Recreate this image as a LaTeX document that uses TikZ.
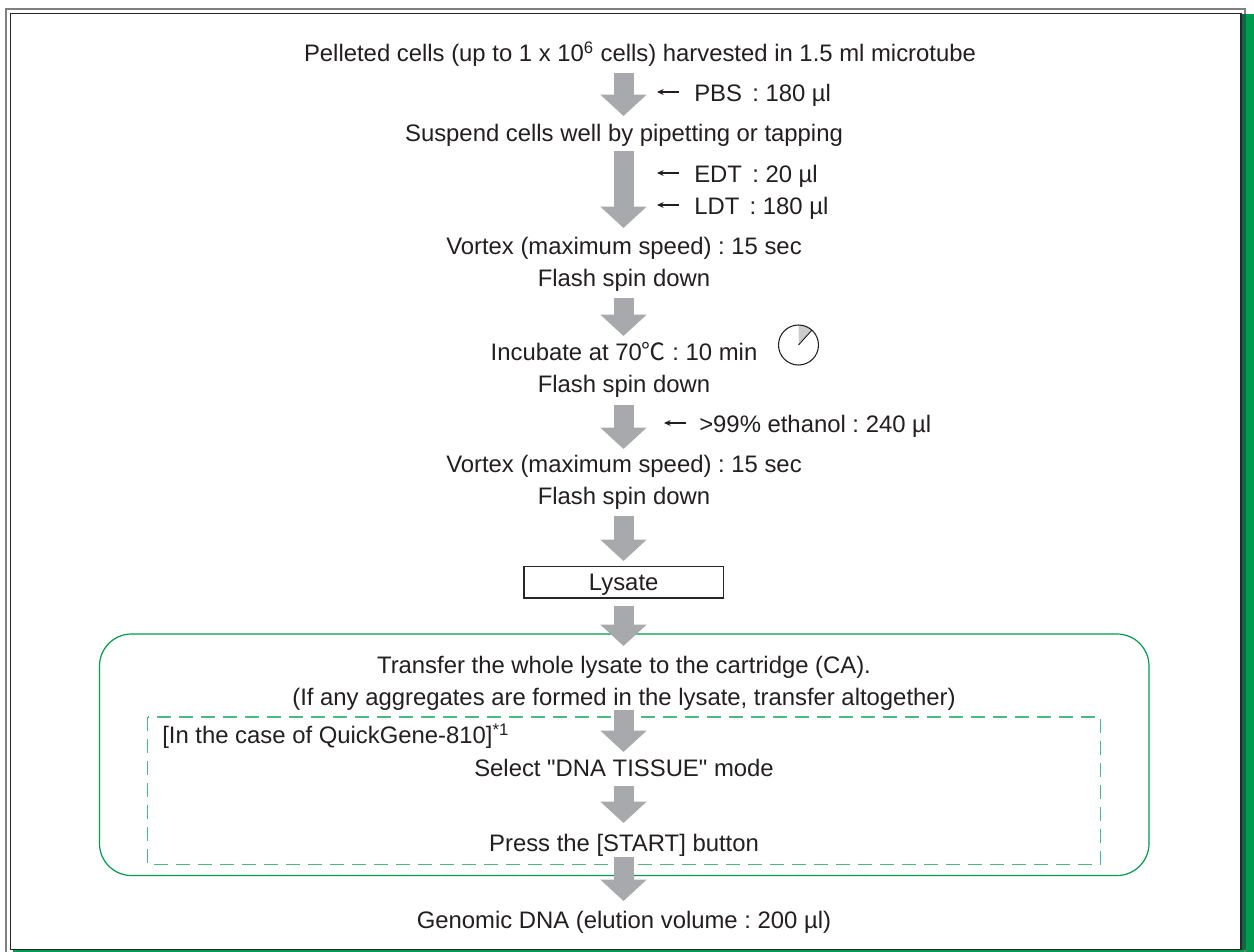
\documentclass[tikz,border=0pt]{standalone}
\usepackage{fontspec}
\newfontfamily\mainf{Liberation Sans}
\newfontfamily\cjk{Noto Sans CJK JP}
\usetikzlibrary{arrows.meta}
\definecolor{txt}{HTML}{231F20}
\definecolor{flowgray}{HTML}{A7A9AC}
\definecolor{brand}{HTML}{009B4E}
\definecolor{brandd}{HTML}{0B6B45}
\tikzset{
 x=0.75pt,y=-0.75pt,
 lab/.style={inner sep=0pt,text=txt,font=\mainf\fontsize{17.9}{20}\selectfont\frenchspacing,anchor=base},
 labl/.style={lab,anchor=base west},
 flow/.style={draw=flowgray,line width=15pt,-{Triangle[length=16pt,width=33.75pt]}},
 small/.style={draw=txt,line width=0.8pt,-{Stealth[length=5pt,width=4.5pt]}},
}
\newcommand{\flowarrow}[3]{\coordinate (#1s) at (623.5,#2);\coordinate (#1e) at (623.5,#3);\draw[flow] (#1s) -- (#1e);}
\newcommand{\gapc}{\hspace{7.7pt}}
\begin{document}
\begin{tikzpicture}
\useasboundingbox (0,0) rectangle (1254,952);
\fill[white] (0,0) rectangle (1254,952);
\fill[brand] (1241,14) rectangle (1254,952);
\fill[brand] (13,950) rectangle (1254,952);
\draw[gray,line width=1pt] (6,952) -- (6,9) -- (1245,9) -- (1245,952);
\fill[brandd] (1241,14) rectangle (1246,950);
\draw[black!85,line width=1pt] (10.5,949.5) -- (10.5,13.5) -- (1241,13.5) -- (1241,949.5) -- cycle;
\draw[brand,line width=0.9pt,rounded corners=24pt] (99.5,634) rectangle (1149,875.5);
\draw[brand!70,line width=0.9pt,dash pattern=on 10.5pt off 6pt] (147.5,717) rectangle (1100.5,864.5);
\node[lab] (t1) at (640,61.7) {Pelleted cells (up to 1 x 10\textsuperscript{6} cells) harvested in 1.5 ml microtube};
\node[lab] (t2) at (624,141.7) {Suspend cells well by pipetting or tapping};
\node[lab] (t3) at (624,254.7) {Vortex (maximum speed) : 15 sec};
\node[lab] (t4) at (624,286.7) {Flash spin down};
\node[lab] (t5) at (624,360.7) {Incubate at 70{\cjk ℃} : 10 min};
\node[lab] (t6) at (624,392.7) {Flash spin down};
\node[lab] (t7) at (624,472.7) {Vortex (maximum speed) : 15 sec};
\node[lab] (t8) at (624,504.7) {Flash spin down};
\node[lab,draw=black!85,line width=0.8pt,minimum width=149.6pt,minimum height=23.5pt,anchor=center,text height=13pt,text depth=0pt] (lys) at (623.7,582.3) {Lysate};
\node[lab] (t9) at (624,673.7) {Transfer the whole lysate to the cartridge (CA).};
\node[lab] (t10) at (624,705.7) {(If any aggregates are formed in the lysate, transfer altogether)};
\node[labl] (t11) at (162,743.7) {[In the case of QuickGene-810]\textsuperscript{*1}};
\node[lab] (t12) at (624,776) {Select "DNA TISSUE" mode};
\node[lab] (t13) at (624,851.7) {Press the [START] button};
\node[lab] (t14) at (624,928.7) {Genomic DNA (elution volume : 200 µl)};
\node[labl] (p1) at (694,101.7) {PBS\gapc: 180 µl};
\node[labl] (p2) at (694,182.7) {EDT\gapc: 20 µl};
\node[labl] (p3) at (694,214.7) {LDT\gapc: 180 µl};
\node[labl] (p4) at (699,432.7) {>99\% ethanol : 240 µl};
\coordinate (q1) at (657,92);\coordinate (q2) at (657,173);\coordinate (q3) at (657,205);\coordinate (q4) at (664,423);
\foreach \a/\b in {p1/q1,p2/q2,p3/q3,p4/q4}{\draw[small] (\b)++(22,0) -- (\b);}
\flowarrow{a1}{73}{116}
\flowarrow{a2}{151}{228}
\flowarrow{a3}{298}{336}
\flowarrow{a4}{405}{449}
\flowarrow{a5}{516}{561}
\flowarrow{a6}{606}{646}
\flowarrow{a7}{710}{752}
\flowarrow{a8}{786}{823}
\flowarrow{a9}{857}{901}
\coordinate (c) at (798.5,345);
\fill[black!20] (c) -- (798.5,325) arc (-90:-48:20) -- cycle;
\draw[txt,line width=0.8pt] (c) circle (20);
\draw[txt,line width=0.7pt] (c) -- ++(13.4,-14.9);
\end{tikzpicture}
\end{document}
